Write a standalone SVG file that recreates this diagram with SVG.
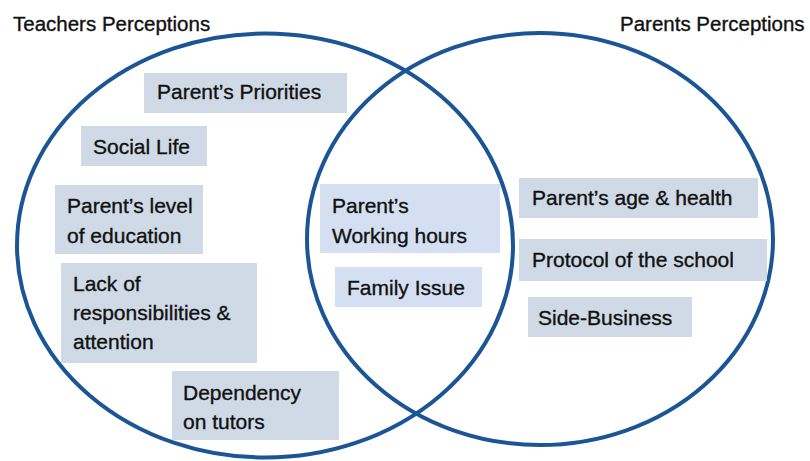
<svg xmlns="http://www.w3.org/2000/svg" width="810" height="461" viewBox="0 0 810 461">
<style>
.circ{fill:none;stroke:#1c5596;stroke-width:4}
.box{fill:#cfdae6}
.mid{fill:#d4e0f1}
text{font-family:"Liberation Sans",Arial,sans-serif;font-size:21px;fill:#111111;stroke:#111111;stroke-width:0.35}
.title{font-size:20.5px}
</style>
<rect width="810" height="461" fill="#ffffff"/>
<g id="circles">
<ellipse id="teachers-circle" class="circ" cx="265" cy="245.5" rx="248" ry="212"/>
<ellipse id="parents-circle" class="circ" cx="540" cy="239" rx="233" ry="206"/>
</g>
<g id="titles">
<text id="title-teachers" class="title" x="13" y="31">Teachers Perceptions</text>
<text id="title-parents" class="title" x="620" y="31">Parents Perceptions</text>
</g>
<g id="connectors"></g>
<g id="n-priorities"><rect class="box" x="144" y="73" width="203" height="40"/><text x="157" y="99">Parent’s Priorities</text></g>
<g id="n-social"><rect class="box" x="81" y="126" width="126" height="40"/><text x="93" y="154">Social Life</text></g>
<g id="n-education"><rect class="box" x="55" y="185" width="148" height="69"/><text x="67" y="213">Parent’s level</text><text x="67" y="243">of education</text></g>
<g id="n-lack"><rect class="box" x="61" y="263" width="196" height="100"/><text x="73" y="291">Lack of</text><text x="73" y="320">responsibilities &amp;</text><text x="73" y="349">attention</text></g>
<g id="n-dependency"><rect class="box" x="172" y="371" width="167" height="69"/><text x="183" y="400">Dependency</text><text x="183" y="429">on tutors</text></g>
<g id="n-working"><rect class="mid" x="320" y="184" width="180" height="69"/><text x="332" y="213">Parent’s</text><text x="332" y="243">Working hours</text></g>
<g id="n-family"><rect class="mid" x="335" y="267" width="147" height="40"/><text x="347" y="295">Family Issue</text></g>
<g id="n-age"><rect class="box" x="519" y="178" width="239" height="40"/><text x="532" y="205">Parent’s age &amp; health</text></g>
<g id="n-protocol"><rect class="box" x="519" y="239" width="248" height="42"/><text x="532" y="267">Protocol of the school</text></g>
<g id="n-side"><rect class="box" x="528" y="297" width="164" height="40"/><text x="538" y="325">Side-Business</text></g>
</svg>
